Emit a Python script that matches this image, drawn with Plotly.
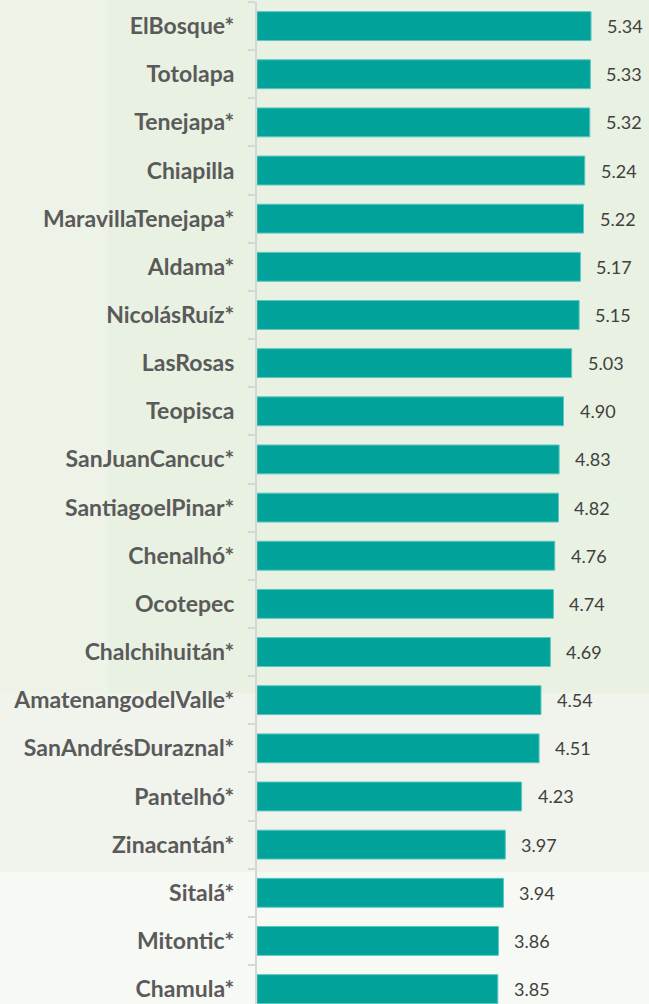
import plotly.graph_objects as go

categories = ["ElBosque*", "Totolapa", "Tenejapa*", "Chiapilla", "MaravillaTenejapa*",
              "Aldama*", "NicolásRuíz*", "LasRosas", "Teopisca", "SanJuanCancuc*",
              "SantiagoelPinar*", "Chenalhó*", "Ocotepec", "Chalchihuitán*",
              "AmatenangodelValle*", "SanAndrésDuraznal*", "Pantelhó*", "Zinacantán*",
              "Sitalá*", "Mitontic*", "Chamula*"]
values = [5.34, 5.33, 5.32, 5.24, 5.22, 5.17, 5.15, 5.03, 4.90, 4.83, 4.82,
          4.76, 4.74, 4.69, 4.54, 4.51, 4.23, 3.97, 3.94, 3.86, 3.85]

W, H = 649, 1004
ML, MR, MT, MB = 257, 0, 2, 0
PW, PH = W - ML - MR, H - MT - MB


def px_x(p):
    return (p - ML) / PW


def px_y(p):
    return 1 - (p - MT) / PH


fig = go.Figure()
fig.add_trace(go.Bar(
    x=values, y=categories, orientation="h",
    marker=dict(color="#00A29A", line=dict(color="#5cc6bf", width=1)),
    hoverinfo="skip",
))

for c, v in zip(categories, values):
    fig.add_annotation(x=v, y=c, text=f"{v:.2f}", showarrow=False,
                       xanchor="left", yanchor="middle", xshift=14,
                       font=dict(family="Lato", size=18, color="#404040"))

shapes = [
    dict(type="rect", xref="paper", yref="paper", x0=px_x(-10), x1=px_x(108), y0=px_y(693), y1=px_y(-10),
         fillcolor="#eef3e8", line_width=0, layer="below"),
    dict(type="rect", xref="paper", yref="paper", x0=px_x(-10), x1=px_x(W + 10), y0=px_y(872), y1=px_y(693),
         fillcolor="#f1f4ec", line_width=0, layer="below"),
    dict(type="rect", xref="paper", yref="paper", x0=px_x(-10), x1=px_x(W + 10), y0=px_y(H + 10), y1=px_y(872),
         fillcolor="#f7f9f4", line_width=0, layer="below"),
]

fig.update_layout(
    width=W, height=H,
    margin=dict(l=ML, r=MR, t=MT, b=MB, pad=0),
    paper_bgcolor="#e9f1e2",
    plot_bgcolor="rgba(0,0,0,0)",
    bargap=0.40,
    showlegend=False,
    shapes=shapes,
    xaxis=dict(visible=False, range=[0, PW / 62.55], showgrid=False, zeroline=False),
    yaxis=dict(
        categoryorder="array", categoryarray=categories,
        range=[-0.5 + PH / 48.15, -0.5],
        tickson="boundaries", ticks="outside", ticklen=7, tickwidth=2, tickcolor="#d6d6d6",
        showline=True, linecolor="#d6d6d6", linewidth=2,
        showgrid=False, zeroline=False,
        ticklabelstandoff=16,
        tickfont=dict(family="Lato", size=23, color="#5a5a5a", weight="bold"),
    ),
)

fig.write_html("out.html",
               config={"displayModeBar": False},
               post_script="document.body.style.margin='0';document.body.style.padding='0';"
                           "document.body.style.background='#f7f9f4';")
